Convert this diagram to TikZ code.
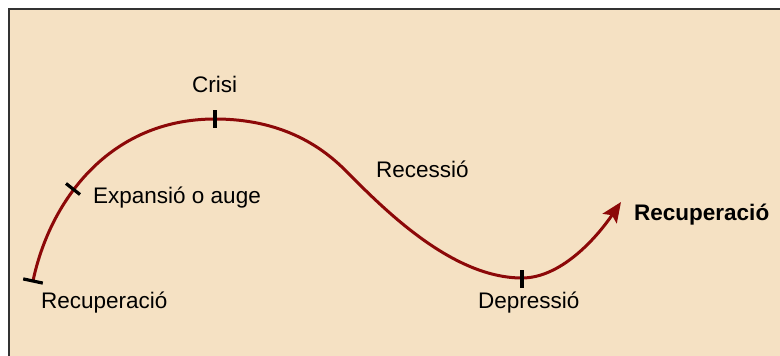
\documentclass[tikz,border=0pt]{standalone}
\usepackage{fontspec}
\setmainfont{Liberation Sans}
\usepackage{xcolor}
\usetikzlibrary{arrows.meta}
\definecolor{fons}{RGB}{245,225,195}
\definecolor{corba}{RGB}{140,8,8}

\begin{document}
\begin{tikzpicture}[x=1pt,y=-1pt,
  fase/.style={anchor=base west,inner sep=0pt,font=\fontsize{22.5}{26}\selectfont},
  cicle/.style={line width=3pt,corba},
  marca/.style={line width=3.2pt,black}]
\useasboundingbox (0,0) rectangle (780,356);
\fill[fons] (9,9) rectangle (780,356);
\draw[line width=2pt,black!80] (9,356) -- (9,9) -- (780,9);

\coordinate (rec) at (33,281);
\coordinate (exp) at (73,189);
\coordinate (cri) at (215,119);
\coordinate (inf) at (345,170);
\coordinate (dep) at (522,278);
\coordinate (fi) at (621,202);

\draw[cicle,-{Stealth[length=20pt,width=17pt,inset=4pt]}] (rec) .. controls (50,200) and (110,119) .. (cri)
  .. controls (280,119) and (320,145) .. (inf)
  .. controls (380,205) and (450,278) .. (dep)
  .. controls (560,278) and (595,240) .. (fi);

\draw[marca] (rec) ++(-9.8,-2.1) -- ++(19.6,4.2);
\draw[marca] (exp) ++(-7,-5.5) -- ++(14,11);
\draw[marca] (cri) ++(0,-9) -- ++(0,18);
\draw[marca] (dep) ++(0,-8) -- ++(0,18);

\node[fase] (tcri) at (192,92) {Crisi};
\node[fase] (texp) at (93,203) {Expansió o auge};
\node[fase] (trec) at (41,308) {Recuperació};
\node[fase] (tres) at (376,177) {Recessió};
\node[fase] (tdep) at (478,308) {Depressió};
\node[fase,font=\fontsize{22.5}{26}\selectfont\bfseries] (tfi) at (634,220) {Recuperació};
\end{tikzpicture}
\end{document}
